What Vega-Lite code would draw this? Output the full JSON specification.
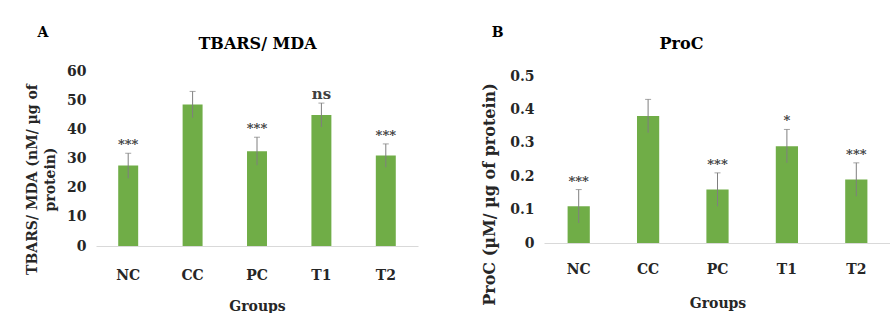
{
  "$schema": "https://vega.github.io/schema/vega-lite/v6.json",
  "padding": {"left": 25, "top": 26, "right": 0, "bottom": 0},
  "background": "white",
  "config": {
    "font": "DejaVu Serif",
    "view": {"stroke": null},
    "axis": {"labelFont": "DejaVu Serif", "titleFont": "DejaVu Serif", "labelFontWeight": "bold", "titleFontWeight": "bold", "labelColor": "#262626", "titleColor": "#262626", "grid": false, "ticks": false, "labelOverlap": false},
    "title": {"font": "DejaVu Serif", "fontWeight": "bold", "fontSize": 14, "color": "#000000", "anchor": "start", "frame": "bounds"},
    "concat": {"spacing": 63}
  },
  "hconcat": [
    {
      "width": 322,
      "height": 175,
      "title": {"text": "A", "dx": 12, "offset": -5},
      "data": {"values": [
        {"group": "NC", "mean": 27.6, "lo": 23.2, "hi": 31.8, "sig": "***"},
        {"group": "CC", "mean": 48.5, "lo": 44.0, "hi": 53.0, "sig": ""},
        {"group": "PC", "mean": 32.5, "lo": 27.7, "hi": 37.3, "sig": "***"},
        {"group": "T1", "mean": 44.9, "lo": 40.8, "hi": 49.0, "sig": "ns"},
        {"group": "T2", "mean": 31.0, "lo": 27.0, "hi": 35.0, "sig": "***"}
      ]},
      "layer": [
        {
          "mark": {"type": "bar", "color": "#70AD47"},
          "encoding": {
            "x": {"field": "group", "type": "nominal", "sort": null, "scale": {"paddingInner": 0.69, "paddingOuter": 0.345},
              "axis": {"title": "Groups", "labelAngle": 0, "labelPadding": 22, "titlePadding": 17, "domainColor": "#d9d9d9", "labelFontSize": 14, "titleFontSize": 14}},
            "y": {"field": "mean", "type": "quantitative", "scale": {"domain": [0, 60]}, "title": ["TBARS/ MDA (nM/ µg of", "protein)"],
              "axis": {"values": [0, 10, 20, 30, 40, 50, 60], "domain": false, "labelPadding": 10, "labelFontSize": 14, "titleFontSize": 14, "titleLineHeight": 18, "titlePadding": 9, "titleY": 108}}
          }
        },
        {
          "mark": {"type": "rule", "color": "#7f7f7f", "strokeWidth": 1},
          "encoding": {
            "x": {"field": "group", "type": "nominal", "sort": null, "axis": null},
            "y": {"field": "lo", "type": "quantitative", "title": ["TBARS/ MDA (nM/ µg of", "protein)"],
              "axis": {"values": [0, 10, 20, 30, 40, 50, 60], "domain": false, "labelPadding": 10, "labelFontSize": 14, "titleFontSize": 14, "titleLineHeight": 18, "titlePadding": 9, "titleY": 108}},
            "y2": {"field": "hi"}
          }
        },
        {
          "mark": {"type": "tick", "color": "#7f7f7f", "size": 6, "thickness": 1},
          "encoding": {
            "x": {"field": "group", "type": "nominal", "sort": null, "axis": null},
            "y": {"field": "hi", "type": "quantitative", "title": ["TBARS/ MDA (nM/ µg of", "protein)"],
              "axis": {"values": [0, 10, 20, 30, 40, 50, 60], "domain": false, "labelPadding": 10, "labelFontSize": 14, "titleFontSize": 14, "titleLineHeight": 18, "titlePadding": 9, "titleY": 108}}
          }
        },
        {
          "mark": {"type": "text", "baseline": "bottom", "dy": -1, "fontWeight": "bold", "fontSize": 13, "color": "#404040"},
          "encoding": {
            "x": {"field": "group", "type": "nominal", "sort": null,
              "axis": {"orient": "top", "title": "TBARS/ MDA", "labels": false, "domain": false, "ticks": false, "titleFontSize": 16, "titleColor": "#000000", "titlePadding": 20}},
            "y": {"field": "hi", "type": "quantitative", "title": ["TBARS/ MDA (nM/ µg of", "protein)"],
              "axis": {"values": [0, 10, 20, 30, 40, 50, 60], "domain": false, "labelPadding": 10, "labelFontSize": 14, "titleFontSize": 14, "titleLineHeight": 18, "titlePadding": 9, "titleY": 108}},
            "text": {"field": "sig"},
            "size": {"condition": {"test": "datum.sig === 'ns'", "value": 15}, "value": 13}
          }
        }
      ],
      "resolve": {"axis": {"x": "independent"}}
    },
    {
      "width": 347,
      "height": 172,
      "title": {"text": "B", "dx": 10, "offset": -5},
      "data": {"values": [
        {"group": "NC", "mean": 0.11, "lo": 0.06, "hi": 0.16, "sig": "***"},
        {"group": "CC", "mean": 0.38, "lo": 0.33, "hi": 0.43, "sig": ""},
        {"group": "PC", "mean": 0.16, "lo": 0.11, "hi": 0.21, "sig": "***"},
        {"group": "T1", "mean": 0.29, "lo": 0.24, "hi": 0.34, "sig": "*"},
        {"group": "T2", "mean": 0.19, "lo": 0.14, "hi": 0.24, "sig": "***"}
      ]},
      "layer": [
        {
          "mark": {"type": "bar", "color": "#70AD47"},
          "encoding": {
            "x": {"field": "group", "type": "nominal", "sort": null, "scale": {"paddingInner": 0.68, "paddingOuter": 0.34},
              "axis": {"title": "Groups", "labelAngle": 0, "labelPadding": 19, "titlePadding": 20, "domainColor": "#d9d9d9", "labelFontSize": 14, "titleFontSize": 14}},
            "y": {"field": "mean", "type": "quantitative", "scale": {"domain": [0, 0.515], "nice": false}, "title": "ProC (µM/ µg of protein)",
              "axis": {"values": [0, 0.1, 0.2, 0.3, 0.4, 0.5], "format": ".1~f", "domain": false, "labelPadding": 10, "labelFontSize": 14, "titleFontSize": 16, "titlePadding": 12, "titleY": 123}}
          }
        },
        {
          "mark": {"type": "rule", "color": "#7f7f7f", "strokeWidth": 1},
          "encoding": {
            "x": {"field": "group", "type": "nominal", "sort": null, "axis": null},
            "y": {"field": "lo", "type": "quantitative", "title": "ProC (µM/ µg of protein)",
              "axis": {"values": [0, 0.1, 0.2, 0.3, 0.4, 0.5], "format": ".1~f", "domain": false, "labelPadding": 10, "labelFontSize": 14, "titleFontSize": 16, "titlePadding": 12, "titleY": 123}},
            "y2": {"field": "hi"}
          }
        },
        {
          "mark": {"type": "tick", "color": "#7f7f7f", "size": 6, "thickness": 1},
          "encoding": {
            "x": {"field": "group", "type": "nominal", "sort": null, "axis": null},
            "y": {"field": "hi", "type": "quantitative", "title": "ProC (µM/ µg of protein)",
              "axis": {"values": [0, 0.1, 0.2, 0.3, 0.4, 0.5], "format": ".1~f", "domain": false, "labelPadding": 10, "labelFontSize": 14, "titleFontSize": 16, "titlePadding": 12, "titleY": 123}}
          }
        },
        {
          "mark": {"type": "text", "baseline": "bottom", "dy": -1, "fontWeight": "bold", "fontSize": 13, "color": "#404040"},
          "encoding": {
            "x": {"field": "group", "type": "nominal", "sort": null,
              "axis": {"orient": "top", "title": "ProC", "labels": false, "domain": false, "ticks": false, "titleFontSize": 16, "titleColor": "#000000", "titlePadding": 20, "titleX": 137}},
            "y": {"field": "hi", "type": "quantitative", "title": "ProC (µM/ µg of protein)",
              "axis": {"values": [0, 0.1, 0.2, 0.3, 0.4, 0.5], "format": ".1~f", "domain": false, "labelPadding": 10, "labelFontSize": 14, "titleFontSize": 16, "titlePadding": 12, "titleY": 123}},
            "text": {"field": "sig"}
          }
        }
      ],
      "resolve": {"axis": {"x": "independent"}}
    }
  ]
}
